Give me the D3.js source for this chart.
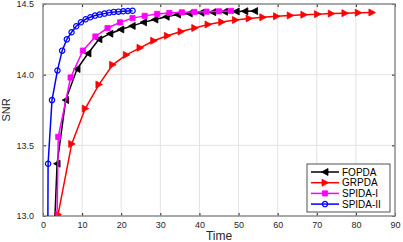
<!DOCTYPE html>
<html>
<head>
<meta charset="utf-8">
<script src="https://cdn.jsdelivr.net/npm/d3@7"></script>
<style>
  html, body { margin: 0; padding: 0; background: #fff; }
  svg { display: block; font-family: "Liberation Sans", Arial, sans-serif; }
</style>
</head>
<body>
<div id="app"></div>
<script>
// data
const xTicks = [0, 10, 20, 30, 40, 50, 60, 70, 80, 90];
const yTicks = [13, 13.5, 14, 14.5];
const seriesNames = ['FOPDA', 'GRPDA', 'SPIDA-I', 'SPIDA-II'];

const fopdaX = [0, 3.6, 5.8, 8.7, 11.5, 14.3, 17.1, 19.9, 22.8, 25.7, 28.6, 31.5, 34.4, 37.4, 40.4, 43.4, 46.4, 49.4, 51.6, 54.1];
const fopdaY = [10.9, 13.37, 13.82, 14.04, 14.15, 14.25, 14.29, 14.32, 14.345, 14.37, 14.39, 14.41, 14.425, 14.433, 14.438, 14.442, 14.445, 14.447, 14.449, 14.45];

const grpdaX = [3.85, 7.34, 10.8, 14.3, 17.8, 21.3, 24.8, 28.3, 31.8, 35.3, 38.8, 42.2, 45.7, 49.2, 52.7, 56.2, 59.7, 63.2, 66.7, 70.2, 73.7, 77.2, 80.6, 84.1];
const grpdaY = [13.01, 13.51, 13.76, 13.93, 14.07, 14.14, 14.19, 14.24, 14.275, 14.305, 14.33, 14.355, 14.372, 14.387, 14.398, 14.406, 14.413, 14.419, 14.424, 14.428, 14.432, 14.435, 14.438, 14.44];

const spida1X = [0, 3.9, 7.06, 10.2, 13.4, 16.5, 19.7, 22.9, 26.0, 29.2, 32.3, 35.5, 38.7, 41.8, 45.0, 48.1];
const spida1Y = [6.3, 13.56, 13.98, 14.17, 14.27, 14.33, 14.37, 14.40, 14.416, 14.43, 14.437, 14.441, 14.444, 14.446, 14.448, 14.451];

const spida2X = [0, 1.3, 2.3, 3.7, 4.9, 6.1, 7.3, 8.5, 9.7, 10.9, 12.1, 13.3, 14.5, 15.7, 16.9, 18.1, 19.3, 20.5, 21.7, 22.9];
const spida2Y = [3.8, 13.37, 13.82, 14.03, 14.17, 14.25, 14.30, 14.343, 14.371, 14.392, 14.406, 14.418, 14.425, 14.432, 14.439, 14.444, 14.446, 14.449, 14.451, 14.452];

const width = 403;
const height = 242;
// plot box
const padding = { left: 43, right: 8, top: 4, bottom: 26 };
const chartWidth = width - padding.left - padding.right;
const chartHeight = height - padding.top - padding.bottom;

let svg = d3.select('#app').append('svg')
  .attr('width', width)
  .attr('height', height);

let xScale = d3.scaleLinear().domain([0, 90]).range([0, chartWidth]);
let yScale = d3.scaleLinear().domain([13, 14.5]).range([chartHeight, 0]);

let g = svg.append('g')
  .attr('transform', `translate(${padding.left}, ${padding.top})`);

svg.append('defs').append('clipPath').attr('id', 'clip')
  .append('rect').attr('width', chartWidth).attr('height', chartHeight);

// grid
g.append('g').selectAll('line').data(xTicks.slice(1, -1)).enter().append('line')
  .attr('x1', d => xScale(d)).attr('x2', d => xScale(d))
  .attr('y1', 0).attr('y2', chartHeight)
  .attr('stroke', '#e3e3e3').attr('stroke-width', 1);
g.append('g').selectAll('line').data(yTicks.slice(1, -1)).enter().append('line')
  .attr('y1', d => yScale(d)).attr('y2', d => yScale(d))
  .attr('x1', 0).attr('x2', chartWidth)
  .attr('stroke', '#e3e3e3').attr('stroke-width', 1);

// axes
const styleAxis = (sel) => {
  sel.select('.domain').remove();
  sel.selectAll('.tick line').attr('stroke', '#262626');
  sel.selectAll('.tick text').attr('fill', '#262626').style('font-size', '9px');
};
g.append('g').attr('transform', `translate(0, ${chartHeight})`)
  .call(d3.axisBottom(xScale).tickValues(xTicks).tickSizeInner(-3).tickPadding(6))
  .call(styleAxis);
g.append('g')
  .call(d3.axisLeft(yScale).tickValues(yTicks).tickSizeInner(-3).tickPadding(9))
  .call(styleAxis);
g.append('g')
  .call(d3.axisTop(xScale).tickValues(xTicks).tickSizeInner(-3).tickFormat(''))
  .call(styleAxis);
g.append('g').attr('transform', `translate(${chartWidth}, 0)`)
  .call(d3.axisRight(yScale).tickValues(yTicks).tickSizeInner(-3).tickFormat(''))
  .call(styleAxis);

g.append('rect')
  .attr('width', chartWidth).attr('height', chartHeight)
  .attr('fill', 'none').attr('stroke', '#8c8c8c').attr('stroke-width', 1.5);

// marker shapes
const markerPath = (type) => {
  if (type === 'left') return 'M-3.5,0L3,-3.5L3,3.5Z';
  if (type === 'right') return 'M3.5,0L-3,-3.5L-3,3.5Z';
  if (type === 'square') return 'M-2.6,-2.6H2.6V2.6H-2.6Z';
  return d3.symbol(d3.symbolCircle, 22)();
};

const series = [
  { name: seriesNames[0], xs: fopdaX, ys: fopdaY, color: '#000000', marker: 'left', fill: true },
  { name: seriesNames[1], xs: grpdaX, ys: grpdaY, color: '#ff0000', marker: 'right', fill: true },
  { name: seriesNames[2], xs: spida1X, ys: spida1Y, color: '#ff00ff', marker: 'square', fill: true },
  { name: seriesNames[3], xs: spida2X, ys: spida2Y, color: '#0000ff', marker: 'circle', fill: false }
];

let plot = g.append('g').attr('clip-path', 'url(#clip)');
let line = d3.line().x(d => xScale(d[0])).y(d => yScale(d[1]));

series.forEach((s) => {
  let pts = s.xs.map((x, i) => [x, s.ys[i]]);
  plot.append('path')
    .attr('d', line(pts))
    .attr('fill', 'none')
    .attr('stroke', s.color)
    .attr('stroke-width', 1.5);
  plot.selectAll(null).data(pts).enter().append('path')
    .attr('transform', d => `translate(${xScale(d[0])}, ${yScale(d[1])})`)
    .attr('d', markerPath(s.marker))
    .attr('fill', s.fill ? s.color : 'none')
    .attr('stroke', s.color)
    .attr('stroke-width', s.fill ? 0.8 : 1.2);
});

// axis labels
svg.append('text')
  .attr('x', padding.left + chartWidth / 2)
  .attr('y', 240)
  .attr('text-anchor', 'middle')
  .style('font-size', '12px')
  .attr('fill', '#262626')
  .text('Time');
svg.append('text')
  .attr('transform', `translate(10, ${padding.top + chartHeight / 2}) rotate(-90)`)
  .attr('text-anchor', 'middle')
  .style('font-size', '11px')
  .attr('fill', '#262626')
  .text('SNR');

// legend
let legend = svg.append('g').attr('transform', 'translate(307, 164)');
legend.append('rect')
  .attr('width', 83).attr('height', 48)
  .attr('fill', '#fff').attr('stroke', '#262626').attr('stroke-width', 0.8);
series.forEach((s, i) => {
  let ly = 8 + i * 10.7;
  legend.append('line')
    .attr('x1', 4).attr('x2', 32).attr('y1', ly).attr('y2', ly)
    .attr('stroke', s.color).attr('stroke-width', 1.5);
  legend.append('path')
    .attr('transform', `translate(18, ${ly})`)
    .attr('d', markerPath(s.marker))
    .attr('fill', s.fill ? s.color : 'none')
    .attr('stroke', s.color)
    .attr('stroke-width', s.fill ? 0.8 : 1.2);
  legend.append('text')
    .attr('x', 35).attr('y', ly + 3.5)
    .style('font-size', '10px')
    .attr('fill', '#000')
    .text(s.name);
});
</script>
</body>
</html>
